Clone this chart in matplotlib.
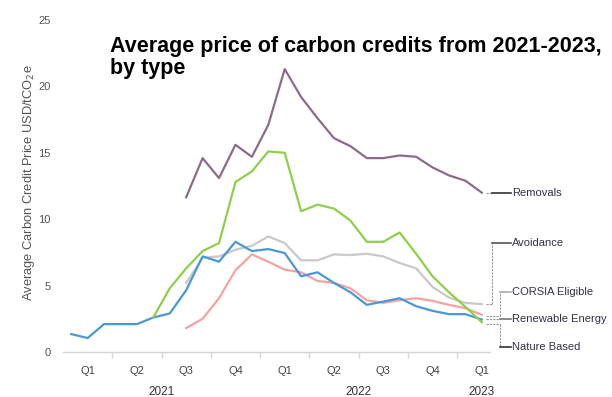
import numpy as np
import matplotlib.pyplot as plt
from matplotlib import transforms

plt.rcParams['font.family'] = ['Liberation Sans', 'DejaVu Sans']

# monthly averages, Jan 2021 .. Feb 2023 (26 months)
n_months = 26
renewable = [1.35, 1.05, 2.1, 2.1, 2.1, 2.6, 2.9, 4.65, 7.2, 6.8, 8.3, 7.6, 7.75,
             7.45, 5.7, 6.0, 5.2, 4.5, 3.55, 3.8, 4.05, 3.45, 3.1, 2.85, 2.85, 2.45]
# series starting later in 2021
nature_based = [2.6, 4.8, 6.3, 7.6, 8.2, 12.8, 13.6, 15.1, 15.0, 10.6, 11.1,
                10.8, 9.9, 8.3, 8.3, 9.0, 7.4, 5.7, 4.5, 3.4, 2.25]          # from Jun 2021
avoidance = [5.2, 7.1, 7.2, 7.7, 8.0, 8.7, 8.2, 6.9, 6.9, 7.35, 7.3, 7.4, 7.2,
             6.7, 6.3, 4.9, 4.1, 3.7, 3.6]                                   # from Aug 2021
corsia = [1.8, 2.5, 4.05, 6.15, 7.35, 6.8, 6.2, 6.0, 5.35, 5.2, 4.8, 3.9, 3.7,
          3.9, 4.05, 3.85, 3.55, 3.3, 2.8]                                   # from Aug 2021
removals = [11.65, 14.6, 13.1, 15.6, 14.7, 17.1, 21.3, 19.2, 17.6, 16.1, 15.5,
            14.6, 14.6, 14.8, 14.7, 13.9, 13.3, 12.9, 12.0]                  # from Aug 2021

quarters = ['Q1', 'Q2', 'Q3', 'Q4', 'Q1', 'Q2', 'Q3', 'Q4', 'Q1']
years = ['2021', '2022', '2023']
year_pos = [6, 18, 25.5]

series = [
    ('Avoidance', avoidance, '#c9c9c9'),
    ('CORSIA Eligible', corsia, '#f4a3a3'),
    ('Renewable Energy', renewable, '#4a98d6'),
    ('Nature Based', nature_based, '#8fcf4a'),
    ('Removals', removals, '#8d6b8c'),
]

fig = plt.figure(figsize=(6.12, 3.97), dpi=100)
ax = fig.add_axes([63 / 612, 45 / 397, 427 / 612, 332 / 397])

x_all = np.arange(n_months) + 0.5
for name, vals, col in series:
    x = x_all[n_months - len(vals):]
    ax.plot(x, vals, color=col, lw=1.6, solid_joinstyle='round')

ax.set_xlim(0, 26)
ax.set_ylim(0, 25)
for s in ['top', 'right', 'left']:
    ax.spines[s].set_visible(False)
ax.spines['bottom'].set_color('#d6d6d6')
ax.spines['bottom'].set_linewidth(1.0)

ax.set_yticks([0, 5, 10, 15, 20, 25])
ax.tick_params(axis='y', length=0, pad=9, labelsize=8, labelcolor='#555555')
ax.set_xticks(np.arange(3, 25, 3))
ax.set_xticklabels([])
ax.tick_params(axis='x', which='major', length=4, color='#d6d6d6', width=1)
ax.set_xticks(np.arange(len(quarters)) * 3 + 1.5, minor=True)
ax.set_xticklabels(quarters, minor=True)
ax.tick_params(axis='x', which='minor', length=0, pad=10, labelsize=8,
               labelcolor='#444444')

trans = transforms.blended_transform_factory(ax.transData, ax.transAxes)
for yr, xp in zip(years, year_pos):
    ax.text(xp, -40 / 332, yr, transform=trans, ha='center', va='center',
            fontsize=8.5, color='#333333')

ax.set_ylabel('Average Carbon Credit Price USD/tCO$_2$e', fontsize=9.3,
              color='#555555')
ax.yaxis.set_label_coords(-0.062, 0.51)

# right-hand labels with leader lines
end_x = x_all[-1] + 0.25
text_x = 27.35
labels = [
    # name, series end value, label y, elbow x, leader colour
    ('Removals', removals[-1], removals[-1], 26.15, '#333333'),
    ('Avoidance', avoidance[-1], 8.2, 26.1, '#555555'),
    ('CORSIA Eligible', corsia[-1] - 0.1, 4.5, 26.6, '#aaaaaa'),
    ('Renewable Energy', renewable[-1], renewable[-1], 26.6, '#777777'),
    ('Nature Based', nature_based[-1] - 0.15, 0.38, 26.6, '#333333'),
]
for name, y0, y1, ex, col in labels:
    kw = dict(clip_on=False, lw=0.8)
    ax.plot([end_x, ex], [y0, y0], color='#999999', ls=(0, (2, 1)), **kw)
    if abs(y1 - y0) > 0.01:
        ax.plot([ex, ex], [y0, y1], color='#999999', ls=(0, (2, 1)), **kw)
    ax.plot([ex, 27.3], [y1, y1], color=col, lw=1.2, clip_on=False)
    ax.text(text_x, y1, name, ha='left', va='center', fontsize=8,
            color='#333344')

fig.text(110 / 612, 1 - 36 / 397,
         'Average price of carbon credits from 2021-2023,\nby type',
         ha='left', va='top', fontsize=15.5, fontweight='bold', color='black',
         linespacing=1.05)

fig.savefig('out.png', dpi=100)
